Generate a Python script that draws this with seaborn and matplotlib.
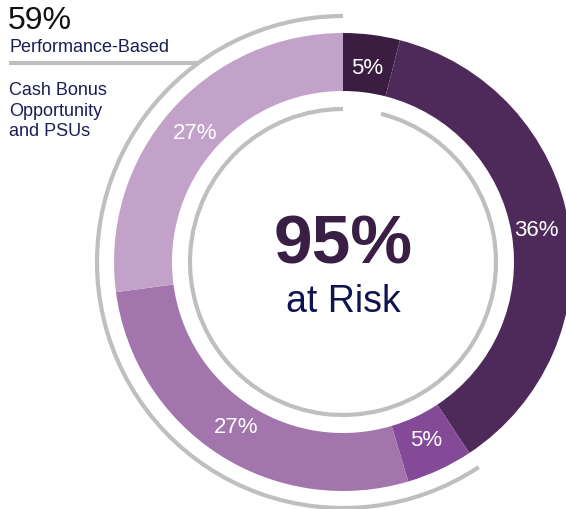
import numpy as np
import matplotlib
matplotlib.use("Agg")
import matplotlib.pyplot as plt
from matplotlib.patches import Arc
import seaborn as sns

# slice sizes (labels are the printed, rounded figures)
segments = ["LTI 1", "LTI 2", "Cash Bonus", "PSU 1", "PSU 2"]
values = [4.0, 36.7, 4.7, 27.5, 27.1]
pct_labels = ["5%", "36%", "5%", "27%", "27%"]
colors = ["#3a1d40", "#4e2a5a", "#844a98", "#a375ad", "#c3a2ca"]

sns.set_theme(style="white")
plt.rcParams['font.family'] = ['Liberation Sans', 'DejaVu Sans']

fig = plt.figure(figsize=(5.66, 5.10), dpi=100)
ax = fig.add_axes([0, 0, 1, 1])

cx, cy = 343, 247
R = 229

wedges, texts = ax.pie(values, labels=pct_labels, colors=colors,
                       startangle=90, counterclock=False,
                       radius=R, center=(cx, cy),
                       labeldistance=196 / R,
                       wedgeprops=dict(width=58, linewidth=0),
                       textprops=dict(color="white", fontsize=16))
for t in texts:
    t.set_ha("center")
    t.set_va("center")

# gray arcs: outer one over performance-based part, inner one over the at-risk part
frac = np.cumsum(values) / np.sum(values)
gray = "#bfbfbf"
outer_start = 90 - 360 * frac[1]  # end of 2nd slice, in standard degrees
ax.add_patch(Arc((cx, cy), 2 * 246, 2 * 246, theta1=90,
                 theta2=outer_start + 360, color=gray, lw=3))
inner_start = 90 - 360 * frac[0]
ax.add_patch(Arc((cx, cy), 2 * 153, 2 * 153, theta1=90,
                 theta2=inner_start + 360, color=gray, lw=3))

ax.plot([9, 198], [446, 446], color=gray, lw=3, solid_capstyle="butt")

# texts
ax.text(8, 489, "59%", fontsize=23, color="#111111", va="center", ha="left")
ax.text(9, 463, "Performance-Based", fontsize=13, color="#1b1d55",
        va="center", ha="left")
ax.text(9, 399, "Cash Bonus\nOpportunity\nand PSUs", fontsize=13,
        color="#1b1d55", va="center", ha="left", linespacing=1.25)

ax.text(cx, 265, "95%", fontsize=50, fontweight="bold", color="#3a1f45",
        ha="center", va="center")
ax.text(cx, 208, "at Risk", fontsize=27, color="#0f1450",
        ha="center", va="center")

ax.set_xlim(0, 566)
ax.set_ylim(0, 510)
ax.set_aspect("equal")
ax.axis("off")

fig.savefig("out.png", dpi=100)
